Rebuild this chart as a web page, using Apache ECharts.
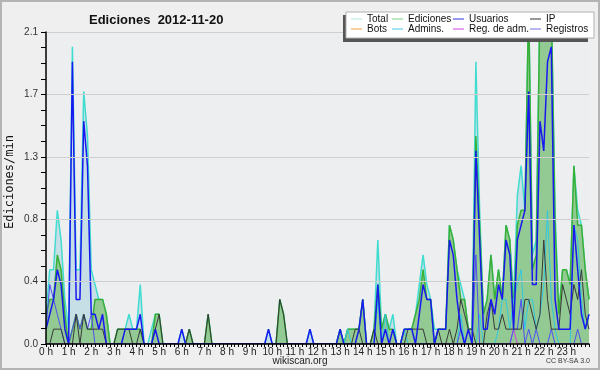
<!DOCTYPE html>
<html>
<head>
<meta charset="utf-8">
<script src="https://cdn.jsdelivr.net/npm/echarts@6/dist/echarts.min.js"></script>
<style>
html,body{margin:0;padding:0;background:#efefef;}
#c{width:600px;height:370px;}
</style>
</head>
<body>
<div id="c"></div>
<script>
// 10-minute slots, 0 h .. 24 h (145 points)
const hourLabels = ["0 h","1 h","2 h","3 h","4 h","5 h","6 h","7 h","8 h","9 h","10 h","11 h",
  "12 h","13 h","14 h","15 h","16 h","17 h","18 h","19 h","20 h","21 h","22 h","23 h"];
const slots = [];
for (let h = 0; h < 24; h++) for (let m = 0; m < 60; m += 10) slots.push(h + ":" + (m < 10 ? "0" : "") + m);
slots.push("24:00");

const total = [
 0.2,0.5,0.5,0.9,0.7,0.3,  0.1,2.0,0.5,0.5,1.7,1.4,  0.5,0.4,0.3,0.3,0.2,0,  0,0.1,0.1,0.1,0.2,0.1,
 0.1,0.4,0,0,0.1,0.2,  0.2,0,0,0,0,0,  0.1,0,0.1,0,0,0,  0,0.2,0,0,0,0,
 0,0,0,0,0,0,  0,0,0,0,0,0.1,  0,0,0.3,0.2,0,0,  0,0,0,0,0.1,0,
 0,0,0,0,0,0,  0.1,0,0.1,0.1,0.1,0.1,  0.3,0,0,0.1,0.7,0.1,  0.2,0.1,0.2,0,0,0.1,
 0.1,0.1,0.2,0.4,0.6,0.4,  0.3,0.1,0.1,0.1,0.1,0.8,  0.7,0.5,0.4,0.3,0.1,0.1,  1.9,0.9,0.2,0.3,0.6,0.3,
 0.5,0.3,0.8,0.7,0.3,1.0,  1.2,0.9,2.3,0.6,0.7,2.3,  2.2,2.3,2.3,0.9,0.2,0.5,  0.5,0.4,1.2,0.9,0.8,0.5,
 0.3];
const ediciones = [
 0.2,0.3,0.3,0.6,0.5,0.2,  0,0.1,0.2,0.1,0.2,0.1,  0.1,0.3,0.3,0.3,0.2,0,  0,0.1,0.1,0.1,0.1,0.1,
 0.1,0.1,0,0,0,0.2,  0.2,0,0,0,0,0,  0,0,0.1,0,0,0,  0,0.2,0,0,0,0,
 0,0,0,0,0,0,  0,0,0,0,0,0,  0,0,0.3,0.2,0,0,  0,0,0,0,0,0,
 0,0,0,0,0,0,  0.1,0,0.1,0.1,0.1,0.1,  0.3,0,0,0.1,0.4,0.1,  0.2,0.1,0.1,0,0,0.1,
 0.1,0.1,0.2,0.3,0.5,0.3,  0.3,0,0.1,0.1,0.1,0.8,  0.7,0.5,0.3,0.3,0.1,0.1,  1.4,0.8,0.2,0.3,0.6,0.3,
 0.5,0.3,0.8,0.7,0.2,0.8,  0.9,0.9,2.3,0.5,0.6,2.3,  2.2,2.3,2.3,0.8,0.2,0.5,  0.5,0.4,1.2,0.8,0.8,0.5,
 0.3];
const usuarios = [
 0.1,0.2,0.3,0.5,0.4,0.1,  0,1.9,0.3,0.3,1.5,1.2,  0.2,0.2,0.1,0.2,0,0,  0,0,0,0.1,0.1,0.1,
 0.1,0.2,0,0,0,0.1,  0,0,0,0,0,0,  0.1,0,0,0,0,0,  0,0,0,0,0,0,
 0,0,0,0,0,0,  0,0,0,0,0,0.1,  0,0,0,0,0,0,  0,0,0,0,0.1,0,
 0,0,0,0,0,0,  0.1,0,0,0,0,0.1,  0.3,0,0,0,0.4,0,  0.1,0,0.1,0,0,0.1,
 0.1,0.1,0,0.2,0.4,0.3,  0.3,0,0.1,0.1,0.1,0.7,  0.6,0.3,0.1,0,0.1,0,  1.3,0.7,0.1,0.1,0.3,0.2,
 0.4,0.3,0.7,0.6,0.1,0.7,  0.8,0.9,1.7,0.4,0.4,1.5,  1.3,1.9,2.0,0.3,0.1,0.1,  0.1,0.1,0.8,0.5,0.2,0.1,
 0.2];
const ip = [
 0,0,0.1,0.1,0.1,0,  0,0,0.2,0,0.2,0.1,  0.1,0.1,0.1,0.1,0,0,  0,0.1,0.1,0.1,0.1,0,
 0,0.1,0,0,0,0.1,  0.2,0,0,0,0,0,  0,0,0.1,0,0,0,  0,0.2,0,0,0,0,
 0,0,0,0,0,0,  0,0,0,0,0,0,  0,0,0.3,0.2,0,0,  0,0,0,0,0,0,
 0,0,0,0,0,0,  0,0,0,0,0.1,0.1,  0,0,0,0.1,0,0,  0,0,0,0,0,0,
 0.1,0.1,0.1,0.1,0.1,0,  0,0,0.1,0,0,0.1,  0,0.1,0.3,0.2,0.1,0.1,  0,0,0,0.2,0.3,0.1,
 0.1,0.2,0.1,0.1,0.1,0.1,  0.1,0.3,0.3,0.2,0.1,0.2,  0.7,0.3,0.1,0.1,0.1,0.4,  0.3,0.2,0.4,0.3,0.5,0.2,
 0.1];
const bots = [
 0,0,0,0,0,0, 0,0,0,0,0,0, 0,0,0,0,0,0, 0,0,0,0,0,0,
 0,0,0,0,0,0, 0,0,0,0,0,0, 0,0,0,0,0,0, 0,0,0,0,0,0,
 0,0,0,0,0,0, 0,0,0,0,0,0, 0,0,0,0,0,0, 0,0,0,0,0,0,
 0,0,0,0,0,0, 0,0,0,0,0,0, 0,0,0,0,0,0, 0,0,0,0,0,0,
 0,0,0,0,0,0, 0,0,0,0,0,0, 0,0,0,0,0,0, 0,0,0,0,0,0,
 0,0,0,0,0,0, 0,0,0,0,0,0, 0,0,0,0,0,0, 0,0,0,0,0,0,
 0];
const admins = [
 0,0,0,0,0,0, 0,0,0,0,0,0, 0,0,0,0,0,0, 0,0,0,0,0,0,
 0,0,0,0,0,0, 0,0,0,0,0,0, 0,0,0,0,0,0, 0,0,0,0,0,0,
 0,0,0,0,0,0, 0,0,0,0,0,0, 0,0,0,0,0,0, 0,0,0,0,0,0,
 0,0,0,0,0,0, 0,0,0.1,0,0,0, 0,0,0,0,0.3,0, 0.2,0,0,0,0,0.1,
 0,0,0,0,0,0, 0,0,0,0,0,0, 0,0,0.2,0,0,0, 0,0.2,0,0,0,0,
 0.1,0.3,0.3,0.1,0.3,0.4, 0.5,0.1,0.3,0.3,0.1,0.2, 0.4,0.9,0.3,0.1,0,0, 0,0,0.8,0.7,0.3,0.1,
 0.2];
const regAdm = [
 0,0,0,0,0,0, 0,0,0,0,0,0, 0,0,0,0,0,0, 0,0,0,0,0,0,
 0,0,0,0,0,0, 0,0,0,0,0,0, 0,0,0,0,0,0, 0,0,0,0,0,0,
 0,0,0,0,0,0, 0,0,0,0,0,0, 0,0,0,0,0,0, 0,0,0,0,0,0,
 0,0,0,0,0,0, 0,0,0,0,0,0, 0,0,0,0,0,0, 0,0,0,0,0,0,
 0,0,0,0,0,0, 0,0,0,0,0,0, 0,0,0,0,0,0, 0,0,0,0,0,0,
 0,0,0,0,0.1,0, 0,0,0,0,0,0, 0,0,0,0,0,0, 0,0,0,0,0,0,
 0];
const registros = [
 0.1,0.4,0.3,0.2,0.1,0,  0,0.1,0.2,0.1,0.2,0.1,  0.2,0,0,0,0,0,  0,0,0,0,0,0,
 0,0,0,0,0,0, 0,0,0,0,0,0, 0,0,0,0,0,0, 0,0,0,0,0,0,
 0,0,0,0,0,0, 0,0,0,0,0,0, 0,0,0,0,0,0, 0,0,0,0,0,0,
 0,0,0,0,0,0, 0,0,0,0,0,0, 0,0,0,0,0,0, 0,0,0,0,0,0,
 0,0,0,0,0,0, 0,0,0,0,0,0, 0,0,0.1,0,0,0, 0.6,0,0,0,0,0,
 0,0,0,0,0.1,0.1, 0.3,0,0.1,0,0.1,0, 0,0,0.1,0,0,0, 0,0,0,0.1,0,0,
 0];

const FONT = 'Liberation Sans';
const chart = echarts.init(document.getElementById('c'), null, {renderer: 'canvas'});

function line(name, data, color, width, z, area) {
  const s = {
    name: name, type: 'line', data: data, symbol: 'none', z: z,
    lineStyle: {color: color, width: width}, itemStyle: {color: color},
    emphasis: {disabled: true}, silent: true
  };
  if (area) s.areaStyle = {color: area, opacity: 1};
  return s;
}

function legendCol(left, names, colors) {
  return {
    left: left, top: 14, orient: 'vertical', itemGap: 0, padding: 0,
    itemWidth: 11, itemHeight: 1, icon: 'rect', selectedMode: false, z: 20,
    textStyle: {fontFamily: FONT, fontSize: 10, color: '#111', lineHeight: 10, padding: [0,0,0,0]},
    data: names.map((n, k) => ({name: n, itemStyle: {color: colors[k]}}))
  };
}

chart.setOption({
  animation: false,
  backgroundColor: '#efefef',
  title: {
    text: 'Ediciones  2012-11-20', left: 84, top: 9,
    textStyle: {fontFamily: FONT, fontSize: 13, fontWeight: 'bold', color: '#111'}
  },
  grid: {left: 46, right: 11, top: 32, bottom: 26, show: true, backgroundColor: '#edeef0', borderWidth: 0,
         containLabel: false, outerBoundsMode: 'none'},
  xAxis: {
    type: 'category', data: slots, boundaryGap: false, z: 10,
    axisLine: {lineStyle: {color: '#000', width: 1.5}},
    axisTick: {interval: 0, length: 3, lineStyle: {color: '#000'}},
    axisLabel: {
      interval: 5, margin: 3, fontFamily: FONT, fontSize: 10, color: '#222',
      formatter: (v, i) => (i < 144 ? hourLabels[i / 6] : '')
    },
    splitLine: {show: false}
  },
  yAxis: {
    type: 'value', min: 0, max: 2.1, interval: 0.42, z: 10,
    axisLine: {show: true, lineStyle: {color: '#000', width: 1.5}},
    axisTick: {show: true, length: 5, lineStyle: {color: '#000'}},
    minorTick: {show: true, splitNumber: 4, length: 5, lineStyle: {color: '#000'}},
    axisLabel: {margin: 8, fontFamily: FONT, fontSize: 10, color: '#333', formatter: v => v.toFixed(1)},
    splitLine: {show: true, lineStyle: {color: '#cfcfcf', width: 1}}
  },
  legend: [
    legendCol(351, ['Total', 'Bots'], ['#b0e8e0', '#f0a040']),
    legendCol(392, ['Ediciones', 'Admins.'], ['#80d080', '#40c8e0']),
    legendCol(453, ['Usuarios', 'Reg. de adm.'], ['#3030e0', '#d040e0']),
    legendCol(530, ['IP', 'Registros'], ['#303030', '#7070e0'])
  ],
  graphic: [
    {type: 'rect', z: 15, shape: {x: 343, y: 15, width: 245, height: 27}, style: {fill: '#555'}},
    {type: 'rect', z: 16, shape: {x: 346, y: 12, width: 248, height: 26}, style: {fill: '#fff', stroke: '#b0b0b0', lineWidth: 1}},
    {type: 'text', z: 16, x: 10, y: 182, rotation: Math.PI / 2,
     style: {text: 'Ediciones/min', font: '12px "DejaVu Sans Mono"', fill: '#111', align: 'center', verticalAlign: 'middle'}},
    {type: 'text', z: 16, left: 'center', top: 356, style: {text: 'wikiscan.org', font: '10px ' + FONT, fill: '#222'}},
    {type: 'text', z: 16, right: 10, top: 358, style: {text: 'CC BY-SA 3.0', font: '7px ' + FONT, fill: '#333'}},
    {type: 'rect', z: 16, shape: {x: 1, y: 1, width: 598, height: 368}, style: {fill: 'none', stroke: '#b4b4b4', lineWidth: 2}}
  ],
  series: [
    line('Total', total, '#40dcd0', 1.5, 2, '#c6dee6'),
    line('Ediciones', ediciones, '#38b038', 1.5, 3, '#93c993'),
    line('Bots', bots, '#f0a040', 1, 4),
    line('Admins.', admins, '#30c8e0', 1, 4),
    line('Reg. de adm.', regAdm, '#d040e0', 1, 4),
    line('Registros', registros, '#5050f0', 1, 4),
    line('IP', ip, '#383838', 1, 5),
    line('Usuarios', usuarios, '#1818f0', 1.5, 6)
  ]
});
</script>
</body>
</html>
